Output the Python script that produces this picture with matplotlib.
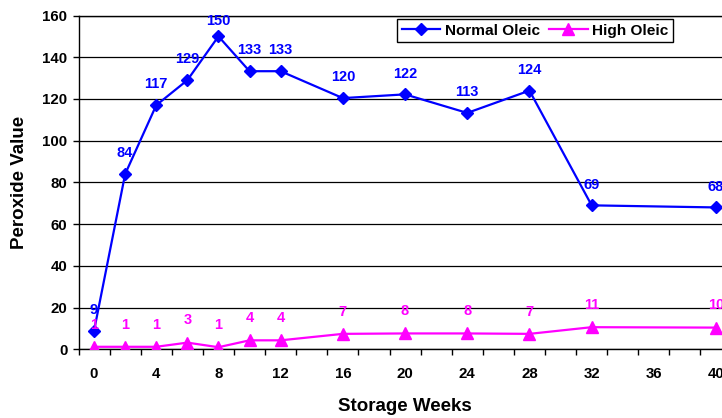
import matplotlib
matplotlib.use("Agg")
import matplotlib.pyplot as plt
from matplotlib.ticker import FixedLocator

plt.rcParams["font.family"] = ["Liberation Sans", "DejaVu Sans"]
plt.rcParams["font.weight"] = "bold"

# storage weeks and peroxide values
weeks = [0, 2, 4, 6, 8, 10, 12, 16, 20, 24, 28, 32, 40]
normal_oleic = [8.9, 84, 117, 129, 150, 133.3, 133.3, 120.4, 122.2, 113.3, 124, 69, 68]
high_oleic = [1.2, 1.2, 1.2, 3.2, 1.0, 4.3, 4.3, 7.4, 7.6, 7.6, 7.4, 10.6, 10.4]
x_labels = [0, 4, 8, 12, 16, 20, 24, 28, 32, 36, 40]
y_ticks = [0, 20, 40, 60, 80, 100, 120, 140, 160]

BLUE = "#0000FF"
PINK = "#FF00FF"

fig = plt.figure(figsize=(7.22, 4.18), dpi=100)
# plot area runs past the right edge of the picture, like the cropped original
ax = fig.add_axes([78.5 / 722, 1 - 349.3 / 418, (731.6 - 78.5) / 722, (349.3 - 15.5) / 418])

ax.plot(weeks, normal_oleic, color=BLUE, lw=1.6, marker="D", ms=6,
        label="Normal Oleic", zorder=4)
ax.plot(weeks, high_oleic, color=PINK, lw=1.6, marker="^", ms=8,
        label="High Oleic", zorder=3)

for x, y in zip(weeks, normal_oleic):
    # the top label sits closer to its point (held inside the plot area)
    dy = 11 if y > 145 else 15
    ax.annotate(f"{y:.0f}", (x, y), xytext=(0, dy), textcoords="offset points",
                ha="center", va="center", color=BLUE, fontsize=10.5,
                fontweight="bold", annotation_clip=False, zorder=5)
for x, y in zip(weeks, high_oleic):
    ax.annotate(f"{y:.0f}", (x, y), xytext=(0, 16), textcoords="offset points",
                ha="center", va="center", color=PINK, fontsize=10.5,
                fontweight="bold", annotation_clip=False, zorder=5)

ax.set_xlim(-1, 41)
ax.set_ylim(0, 160)
ax.set_xticks(x_labels)
ax.set_xticklabels([str(v) for v in x_labels])
ax.xaxis.set_minor_locator(FixedLocator(range(-1, 42, 2)))
ax.tick_params(axis="x", which="major", length=0, pad=13, labelsize=10.8)
ax.tick_params(axis="x", which="minor", length=4.5, width=1, direction="out")
ax.set_yticks(y_ticks)
ax.tick_params(axis="y", length=4, width=1, pad=4, labelsize=10.8)

ax.grid(axis="y", color="black", lw=0.9)
ax.set_axisbelow(True)
ax.spines["right"].set_visible(False)
for side in ["left", "bottom", "top"]:
    ax.spines[side].set_linewidth(1)

ax.set_xlabel("Storage Weeks", fontsize=13.5, fontweight="bold", labelpad=12)
ax.set_ylabel("Peroxide Value", fontsize=13.5, fontweight="bold", labelpad=10)

leg = fig.legend(loc="upper left", bbox_to_anchor=(397 / 722, 1 - 19 / 418),
                 ncol=2, frameon=True, fancybox=False, edgecolor="black",
                 framealpha=1, borderaxespad=0, handlelength=2.5,
                 columnspacing=0.6, handletextpad=0.3, borderpad=0.3,
                 prop={"weight": "bold", "size": 11.1})
leg.get_frame().set_linewidth(1)

fig.savefig("out.png", dpi=100)
